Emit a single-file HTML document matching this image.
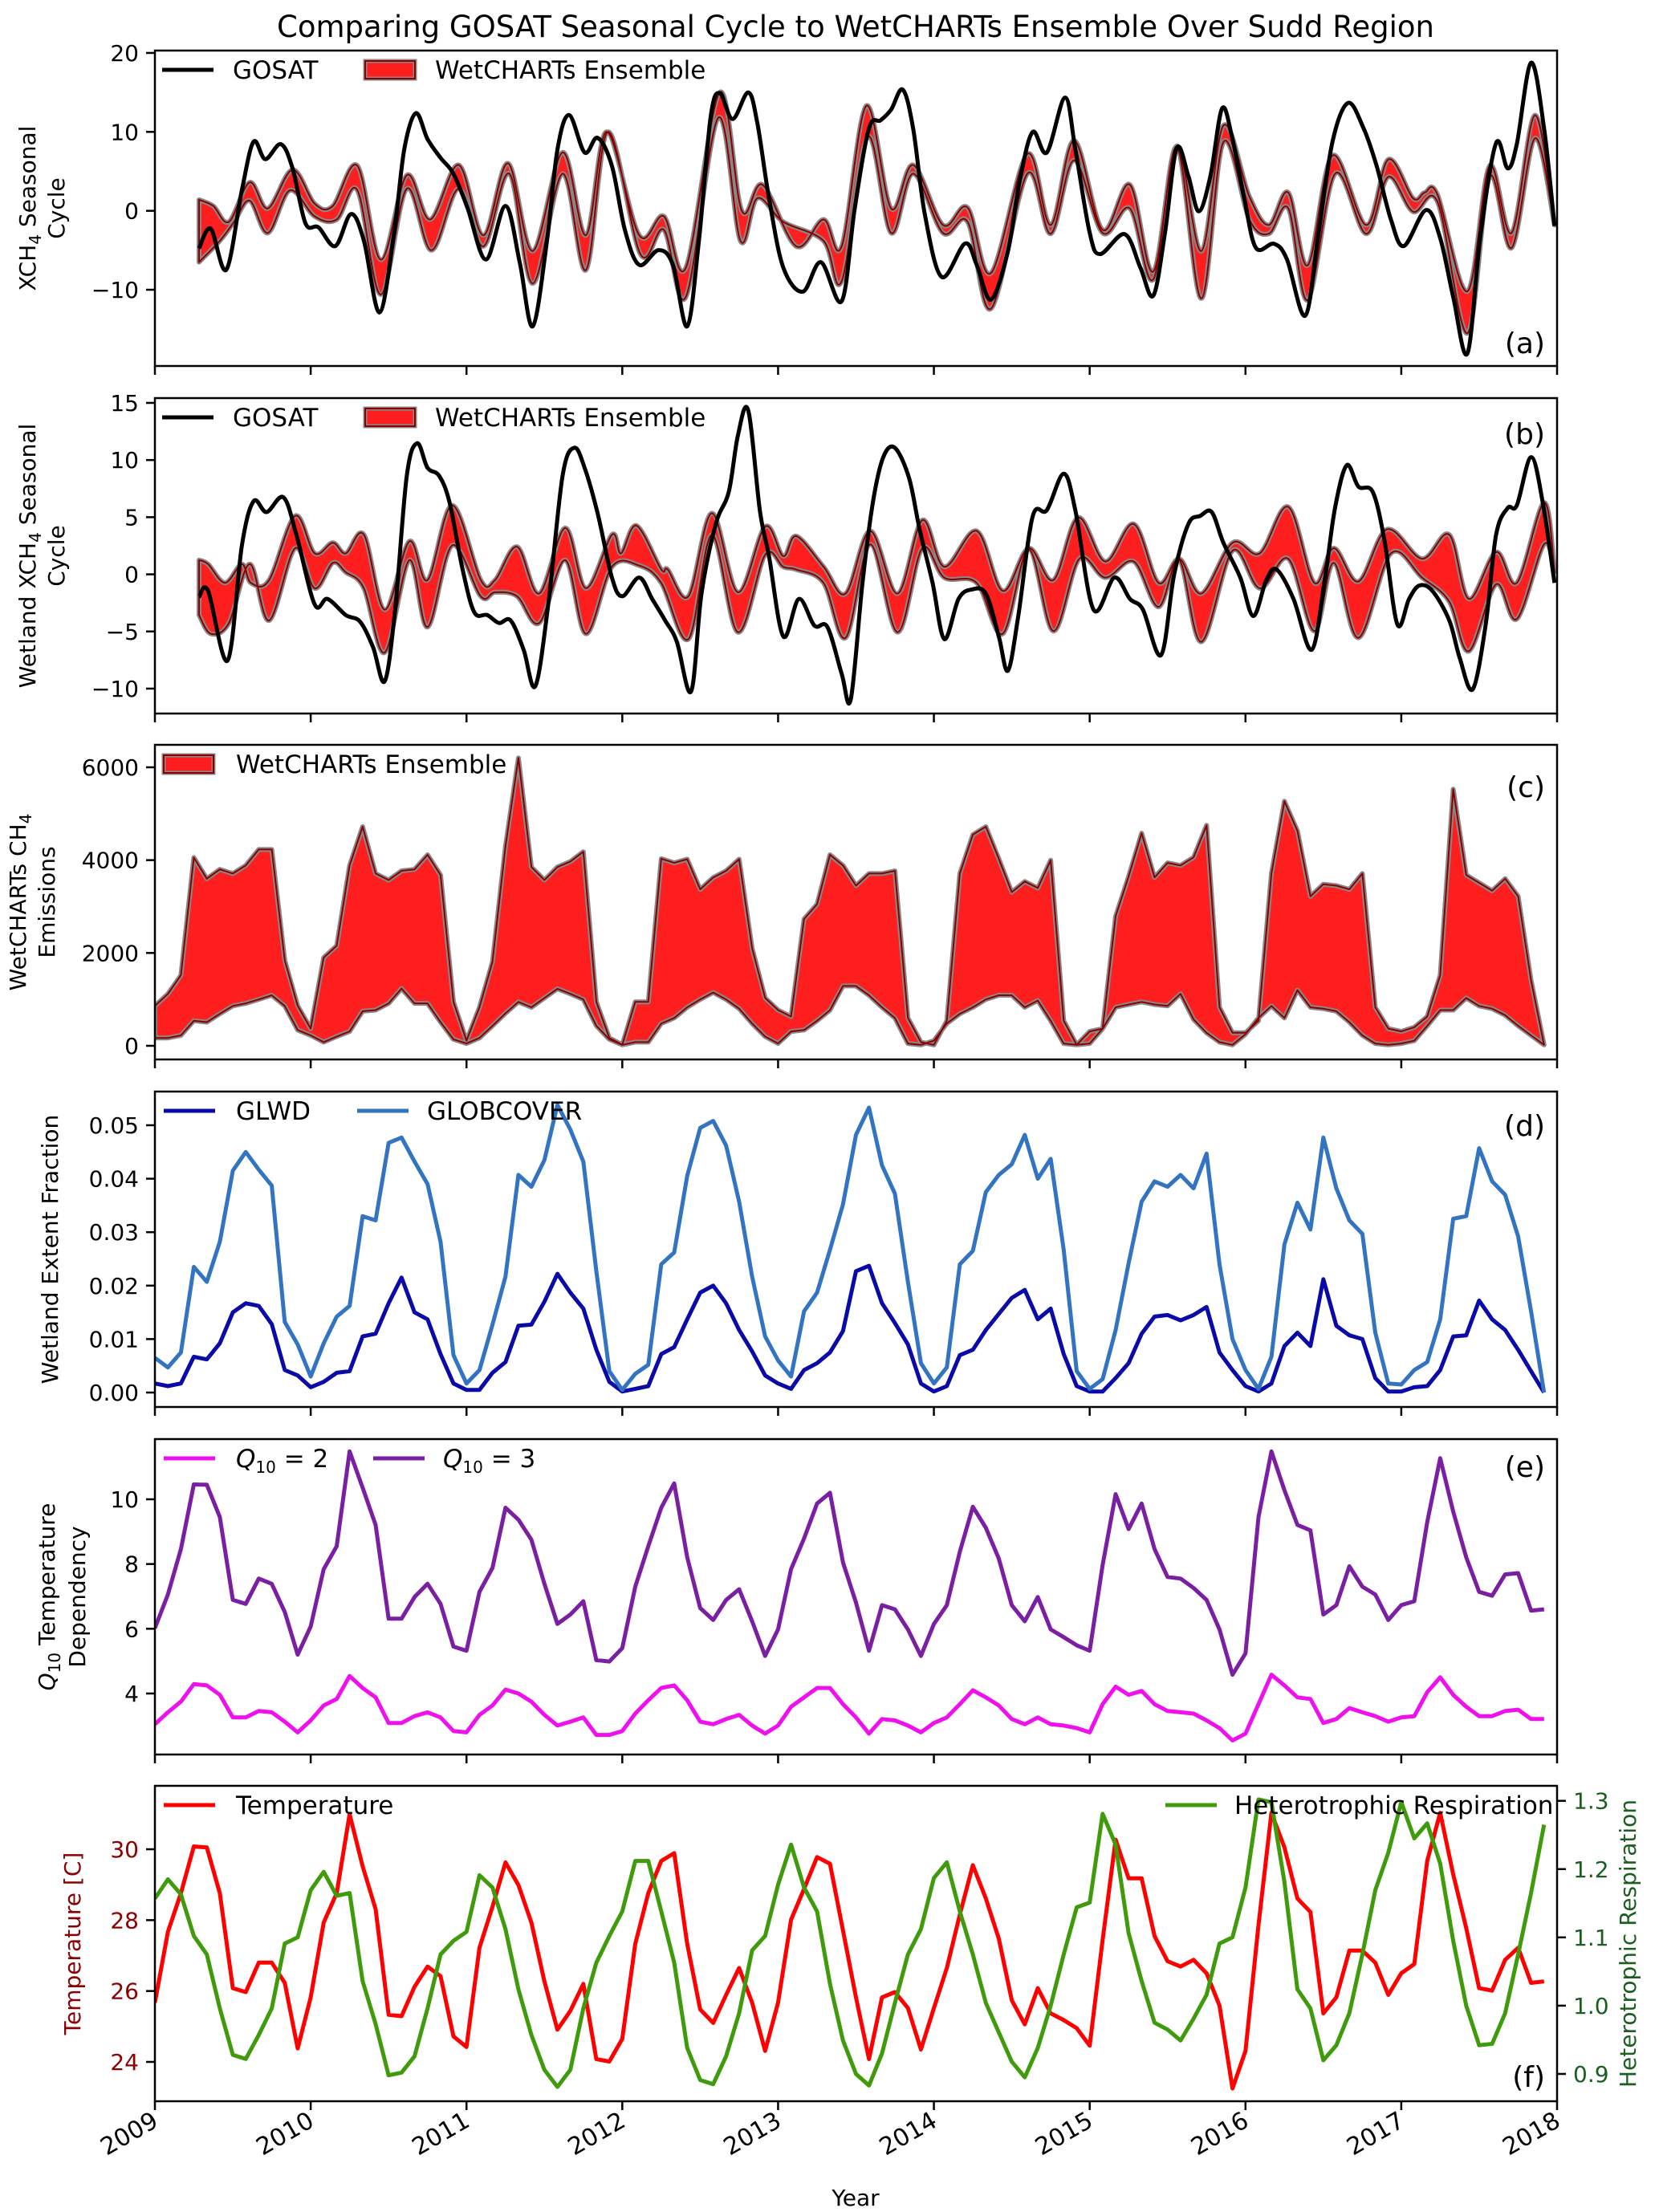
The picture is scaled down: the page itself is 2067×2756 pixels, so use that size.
<!DOCTYPE html>
<html><head><meta charset="utf-8"><style>
html,body{margin:0;padding:0;background:#fff;}
svg{display:block;font-family:"DejaVu Sans","Liberation Sans",sans-serif;}
</style></head><body>
<svg id="fig" width="2067" height="2756" viewBox="0 0 2067 2756" xmlns="http://www.w3.org/2000/svg">
<rect width="2067" height="2756" fill="#fff"/>
<text x="1066" y="46" font-size="37" text-anchor="middle">Comparing GOSAT Seasonal Cycle to WetCHARTs Ensemble Over Sudd Region</text>
</svg>
<script>
// ---------- DATA (month index from Jan 2009, values) ----------
const gosatA_t=[3.4,4.3,5.5,6.7,7.6,8.5,9.7,10.6,11.6,12.6,13.9,15.1,16.1,17.3,18.4,19.2,20.1,21.0,22.0,23.0,24.1,25.5,27.0,28.1,29.1,30.2,31.0,31.9,33.1,34.1,35.2,36.2,37.3,38.8,39.9,41.0,41.9,42.8,43.5,44.5,45.7,46.4,47.3,48.4,49.9,51.3,52.9,53.9,55.0,55.9,56.7,57.6,58.4,59.3,60.6,62.4,63.3,64.4,65.7,66.6,67.6,68.7,70.1,70.9,72.0,72.8,74.7,75.9,76.9,77.8,78.7,79.6,80.4,81.3,82.2,83.0,83.9,84.8,86.2,87.2,88.6,89.6,90.7,91.9,93.1,94.1,95.2,96.2,97.9,99.0,100.0,101.1,102.1,103.3,104.2,104.9,106.0,107.0,107.8];
const gosatA_v=[-4.75,-2.27,-7.46,2.64,8.75,6.54,8.44,5.39,-1.58,-2.10,-4.47,-0.41,-3.80,-12.88,-3.12,7.73,12.37,9.08,6.71,4.68,0.27,-6.17,0.61,-6.51,-14.64,-3.80,7.73,12.14,7.39,9.25,5.69,-2.44,-6.85,-4.98,-6.85,-14.64,-3.80,11.80,14.92,11.63,15.0,11.12,1.63,-7.18,-10.24,-6.51,-11.44,0.27,10.44,11.46,12.81,15.36,10.44,-0.41,-8.37,-4.14,-6.85,-11.25,-5.12,3.69,9.97,7.39,14.34,7.73,-2.78,-5.49,-2.95,-7.18,-10.75,-2.78,7.9,4.41,-0.07,4.41,12.98,9.08,1.63,-4.68,-4.17,-6.17,-13.29,-3.12,8.75,13.66,10.44,5.69,-1.08,-4.47,0.10,-3.46,-10.92,-18.04,-3.12,8.58,5.36,8.47,18.75,10.44,-1.93];
const ensUpA_t=[3.4,4.5,5.7,7.3,8.7,10.6,12.3,13.7,15.6,17.4,19.4,21.2,23.4,25.3,27.2,29.1,31.4,33.2,34.8,37.3,39.2,40.9,43.5,45.2,46.8,49.4,51.5,52.9,54.8,56.7,58.4,60.7,62.6,64.4,67.2,69.0,70.8,73.0,75.1,76.9,78.7,80.6,82.3,84.3,85.8,87.3,88.8,90.7,93.3,95.0,96.9,97.8,98.8,101.1,102.8,104.5,106.3,107.8];
const ensUpA_v=[1.4,0.6,-1.4,3.6,0.3,5.2,0.9,0.6,5.7,-6.2,4.5,-1.1,5.8,-3.1,6.0,-5.1,7.4,-3.1,10.0,-3.1,-0.7,-7.2,15.0,0.0,3.3,-4.5,-1.1,-4.5,13.3,0.3,5.8,-1.8,0.4,-7.9,7.2,-1.8,8.9,-2.4,3.3,-7.7,8.2,-5.1,10.8,1.8,-1.8,2.3,-6.9,7.0,-1.8,6.5,1.6,2.3,2.0,-10.2,5.7,-2.8,12.1,-1.8];
const ensLoA_t=[3.4,5.0,6.1,7.3,8.7,10.4,12.3,14.0,15.6,17.4,19.4,21.3,23.4,25.3,27.3,29.1,31.4,33.2,34.9,37.4,39.2,40.9,43.4,45.1,46.4,48.4,51.5,52.9,54.9,56.7,58.4,60.7,62.6,64.4,67.2,69.0,70.8,73.0,75.1,76.9,78.7,80.6,82.3,84.3,85.8,87.3,88.8,90.9,93.3,95.0,96.9,98.8,101.1,102.8,104.5,106.3,107.8];
const ensLoA_v=[-6.5,-3.8,-1.4,1.3,-2.8,2.6,-0.7,-1.1,2.6,-10.6,2.8,-5.0,2.8,-4.5,4.7,-9.2,4.7,-7.5,10.0,-5.5,-2.4,-10.9,11.8,-3.8,1.6,-1.4,-3.8,-8.9,9.4,-2.8,4.7,-2.8,-1.4,-12.4,4.7,-2.9,6.4,-2.8,0.3,-8.7,8.1,-11.1,8.7,-1.1,-2.9,0.3,-11.3,4.7,-2.9,4.3,-0.1,1.1,-15.5,4.3,-4.7,9.2,-1.8];

const gosatB_t=[3.4,4.1,5.6,6.7,7.6,8.6,9.9,10.9,12.3,13.3,14.7,15.8,16.8,17.7,18.5,19.4,20.2,21.0,21.9,22.7,23.7,24.6,25.6,26.5,27.4,28.4,29.3,30.3,31.4,32.3,33.1,34.1,35.2,36.0,37.3,38.3,39.3,40.2,41.3,42.1,43.2,44.2,44.9,45.7,46.6,47.3,48.4,49.6,50.8,51.8,52.9,53.6,54.5,55.3,56.1,57.0,58.1,58.9,59.9,60.8,61.9,62.9,64.0,65.0,65.7,66.5,67.6,68.7,70.0,70.9,72.3,73.9,75.1,76.1,77.5,78.5,79.6,80.5,81.4,82.3,83.6,84.6,85.6,86.4,87.7,89.1,90.1,90.9,91.8,92.7,93.8,94.7,95.7,96.6,97.4,98.4,99.7,100.5,101.5,102.5,103.3,104.2,104.9,106.0,106.9,107.8];
const gosatB_v=[-1.97,-1.45,-7.54,2.53,6.39,5.45,6.74,3.46,-2.62,-2.15,-3.56,-4.14,-6.37,-9.36,-3.09,8.61,11.47,9.32,8.61,6.27,0.42,-3.32,-3.56,-4.26,-4.03,-6.60,-9.78,-2.62,8.61,11.07,9.32,5.34,-0.28,-1.92,-0.28,-2.15,-4.03,-5.90,-10.24,-1.69,4.40,7.21,12.12,14.35,5.55,1.59,-5.43,-2.15,-4.49,-4.61,-8.71,-10.93,-0.75,6.27,10.25,11.07,8.38,3.93,-0.75,-5.66,-2.15,-1.33,-1.69,-5.43,-8.43,-3.65,5.03,5.62,8.8,5.57,-3.09,-0.28,-2.15,-3.09,-7.07,-0.05,4.40,5.10,5.45,2.76,-0.28,-3.65,-0.51,0.42,-2.15,-6.60,-0.51,5.83,9.55,7.68,7.21,3.0,-4.38,-2.15,-0.98,-1.45,-4.03,-7.31,-10.06,-4.43,3.46,5.80,6.04,10.25,6.27,-0.75];
const ensUpB_t=[3.4,4.1,5.4,6.7,7.4,8.8,10.8,12.3,13.7,14.7,16.1,17.7,19.6,21.0,22.9,25.1,26.2,27.9,29.6,31.6,33.2,35.2,35.9,37.1,39.0,39.5,41.1,42.9,44.9,47.0,48.4,49.4,51.5,53.2,55.1,57.2,59.1,60.8,63.3,65.3,67.3,69.2,71.1,73.2,75.4,77.3,78.9,80.6,83.0,85.1,87.3,89.3,90.8,92.7,94.9,97.6,99.7,101.2,103.3,104.9,107.0,107.8];
const ensUpB_v=[1.24,0.89,-0.75,0.89,-0.75,-0.51,5.11,1.83,2.76,1.83,3.46,-3.09,2.88,-0.51,6.04,-0.51,-0.51,2.41,-1.69,4.05,-1.22,3.46,1.83,4.26,0.42,0.42,-1.92,5.34,-1.57,4.17,1.59,3.34,0.66,-1.69,3.79,-1.69,4.73,0.66,3.79,-1.45,2.29,-0.51,4.96,1.12,4.40,-0.75,1.36,-1.69,2.76,1.83,5.90,-0.75,2.29,-0.63,3.93,1.36,3.46,-2.15,1.94,-0.75,6.27,0.2];
const ensLoB_t=[3.4,4.3,5.7,7.3,8.8,10.8,12.3,13.7,14.7,16.1,17.7,19.6,21.0,22.9,25.1,26.2,27.9,29.6,31.6,33.2,35.2,37.3,39.0,41.1,42.9,44.9,47.0,48.4,49.4,51.5,53.2,55.1,57.2,59.1,60.8,63.3,65.3,67.3,69.2,71.2,73.2,75.4,77.3,78.9,80.6,83.0,85.1,87.3,89.3,90.8,92.7,95.2,97.6,99.7,101.2,103.3,104.9,107.0,107.8];
const ensLoB_v=[-3.56,-5.2,-4.26,0.89,-4.03,2.29,-1.22,1.0,0.19,-1.22,-6.84,1.24,-4.61,2.53,-1.92,-1.57,-1.92,-4.26,1.24,-5.2,0.66,0.77,-0.75,-5.66,3.46,-5.06,1.71,0.66,0.42,-0.75,-5.55,2.62,-5.06,2.29,-0.28,-0.75,-5.2,2.18,-4.96,1.36,-0.28,1.12,-2.85,1.24,-5.9,2.06,-1.22,1.36,-4.96,1.0,-5.55,1.83,-0.28,-2.38,-6.72,-0.87,-3.91,2.64,0.2];

const emisUp=[858,1118,1520,4055,3600,3800,3710,3885,4230,4230,1840,860,370,1900,2155,3885,4720,3710,3570,3770,3800,4115,3680,945,110,830,1810,4300,6200,3850,3570,3850,3970,4180,945,170,20,945,945,4030,3940,4020,3370,3625,3770,4020,2100,1030,770,630,2730,3050,4115,3885,3450,3710,3710,3770,600,80,20,540,3710,4550,4720,4030,3310,3540,3400,4000,540,20,50,370,2790,3650,4580,3625,3940,3885,4060,4750,830,280,280,540,3710,5270,4630,3220,3480,3450,3370,3710,830,370,310,400,630,1520,5530,3680,3510,3340,3600,3220,1410,20];
const emisLo=[170,170,225,540,510,690,860,915,1000,1090,860,340,225,80,200,310,745,770,915,1235,915,915,510,140,50,170,430,700,945,830,1030,1230,1120,1000,430,140,20,80,80,480,600,830,1000,1150,1000,800,480,200,50,310,340,540,770,1290,1290,1090,830,600,50,20,110,480,690,830,1000,1090,1090,830,975,540,50,20,310,370,830,890,945,890,860,1120,570,280,80,20,250,600,860,600,1200,830,800,745,510,225,50,20,50,110,430,770,770,1030,860,800,660,430,225,20];

const glwd=[1.7,1.2,1.7,6.7,6.2,9.2,15.0,16.7,16.2,12.8,4.2,3.2,1.0,2.0,3.7,4.0,10.5,11.0,16.7,21.5,15.0,13.7,7.2,1.7,0.5,0.5,3.7,5.7,12.5,12.7,17.0,22.2,18.7,15.7,8.0,2.0,0.2,0.7,1.2,7.2,8.5,13.7,18.7,20.0,16.7,11.7,7.7,3.2,1.7,0.7,4.2,5.5,7.5,11.5,22.7,23.7,16.7,13.0,9.0,1.7,0.2,1.2,7.0,8.0,11.7,14.7,17.7,19.2,13.7,15.7,7.2,1.2,0.2,0.2,2.7,5.5,11.0,14.2,14.5,13.5,14.5,16.0,7.5,4.2,1.2,0.2,1.7,8.7,11.2,8.7,21.2,12.5,10.7,10.0,2.7,0.2,0.2,1.0,1.2,4.2,10.5,10.7,17.2,13.7,11.7,8.0,4.0,0.0].map(v=>v/1000);
const globcover=[6.5,4.7,7.5,23.5,20.7,28.2,41.5,45.0,41.7,38.7,13.2,9.0,3.0,9.2,14.2,16.2,33.0,32.2,46.7,47.7,43.2,39.0,28.2,7.0,1.7,4.2,12.7,21.7,40.7,38.5,43.5,53.8,49.2,43.2,22.7,4.0,0.5,3.5,5.2,24.0,26.2,40.5,49.5,50.8,46.2,35.7,21.7,10.5,6.0,3.0,15.2,18.7,26.7,35.2,48.2,53.3,42.5,37.2,20.7,5.5,1.7,4.7,24.0,26.5,37.5,40.7,42.7,48.2,40.0,43.7,26.7,4.0,0.7,2.5,11.7,24.2,35.7,39.5,38.5,40.7,38.2,44.7,24.0,10.0,4.2,0.7,6.7,27.7,35.5,30.5,47.7,38.2,32.2,29.7,11.2,1.7,1.5,4.2,5.7,13.7,32.5,33.0,45.7,39.5,37.0,29.2,15.2,0.0].map(v=>v/1000);

const q10two=[3.05,3.42,3.75,4.29,4.25,3.96,3.26,3.26,3.46,3.42,3.13,2.8,3.17,3.63,3.83,4.54,4.17,3.88,3.09,3.09,3.3,3.42,3.26,2.84,2.8,3.34,3.63,4.12,4.0,3.75,3.34,3.01,3.13,3.26,2.72,2.72,2.84,3.38,3.79,4.17,4.25,3.79,3.13,3.05,3.21,3.34,3.01,2.76,3.01,3.59,3.88,4.17,4.17,3.67,3.26,2.76,3.21,3.17,3.01,2.8,3.09,3.26,3.67,4.1,3.88,3.63,3.21,3.05,3.26,3.05,3.01,2.93,2.8,3.67,4.21,3.96,4.08,3.67,3.46,3.42,3.38,3.17,2.93,2.55,2.76,3.67,4.58,4.25,3.88,3.83,3.09,3.21,3.55,3.42,3.3,3.13,3.26,3.3,4.04,4.5,3.96,3.59,3.3,3.3,3.46,3.5,3.21,3.21];
const q10three=[6.02,7.06,8.46,10.46,10.45,9.45,6.89,6.77,7.55,7.39,6.52,5.2,6.07,7.84,8.55,11.48,10.36,9.21,6.31,6.31,6.98,7.39,6.77,5.45,5.32,7.14,7.88,9.74,9.37,8.75,7.39,6.15,6.44,6.85,5.03,4.99,5.4,7.3,8.55,9.74,10.49,8.21,6.64,6.27,6.89,7.22,6.23,5.16,5.98,7.84,8.79,9.87,10.2,8.05,6.81,5.32,6.73,6.6,5.98,5.16,6.15,6.73,8.38,9.77,9.12,8.17,6.73,6.23,6.98,5.98,5.74,5.49,5.32,7.97,10.16,9.08,9.87,8.46,7.6,7.55,7.26,6.89,5.98,4.58,5.24,9.45,11.48,10.28,9.21,9.04,6.44,6.73,7.93,7.3,7.06,6.27,6.73,6.85,9.29,11.27,9.62,8.21,7.14,7.02,7.68,7.72,6.56,6.6];

const temperature=[25.67,27.67,28.76,30.08,30.05,28.76,26.08,25.97,26.8,26.8,26.23,24.38,25.82,27.93,28.76,30.99,29.52,28.31,25.33,25.29,26.12,26.69,26.42,24.72,24.42,27.22,28.38,29.63,28.99,27.93,26.27,24.91,25.44,26.2,24.08,24.01,24.65,27.33,28.76,29.67,29.89,27.33,25.48,25.1,25.89,26.65,25.67,24.31,25.67,28.01,28.88,29.78,29.59,27.71,25.82,24.08,25.82,25.97,25.52,24.35,25.52,26.65,28.16,29.55,28.61,27.48,25.74,25.06,26.08,25.37,25.18,24.95,24.46,27.44,30.27,29.18,29.18,27.55,26.84,26.69,26.88,26.5,25.59,23.25,24.31,27.86,31.03,30.05,28.61,28.23,25.37,25.82,27.14,27.14,26.8,25.89,26.5,26.76,29.67,31.03,29.29,27.78,26.08,26.01,26.88,27.22,26.23,26.27];
const hetResp=[1.157,1.185,1.163,1.102,1.075,0.996,0.928,0.922,0.957,0.996,1.091,1.1,1.169,1.196,1.161,1.165,1.036,0.973,0.898,0.902,0.926,0.996,1.075,1.095,1.108,1.191,1.173,1.112,1.024,0.957,0.906,0.881,0.906,0.996,1.063,1.102,1.138,1.212,1.212,1.138,1.063,0.938,0.891,0.885,0.926,0.989,1.081,1.102,1.177,1.236,1.173,1.138,1.032,0.949,0.9,0.883,0.93,1.004,1.075,1.112,1.187,1.21,1.138,1.075,1.004,0.961,0.918,0.895,0.938,1.0,1.075,1.144,1.151,1.281,1.236,1.106,1.036,0.975,0.965,0.949,0.981,1.016,1.091,1.1,1.173,1.302,1.298,1.181,1.024,0.996,0.92,0.942,0.989,1.075,1.169,1.224,1.298,1.245,1.267,1.208,1.095,1.0,0.942,0.944,0.989,1.075,1.165,1.265];

const yearLabels=["2009","2010","2011","2012","2013","2014","2015","2016","2017","2018"];
const ticksA=[20,10,0,-10], ticksB=[15,10,5,0,-5,-10], ticksC=[0,2000,4000,6000];
const ticksD=[0,0.01,0.02,0.03,0.04,0.05], ticksE=[4,6,8,10], ticksF=[24,26,28,30], ticksFR=[0.9,1.0,1.1,1.2,1.3];

// ---------- DRAWING ----------
const svg=document.getElementById('fig');
const NS='http://www.w3.org/2000/svg';
const L=193,R=1940;
const TK=28, LG=31, YL=28;
const X=t=>L+t*(R-L)/108;
function mk(tag,attrs,parent){const e=document.createElementNS(NS,tag);for(const k in attrs)e.setAttribute(k,attrs[k]);(parent||svg).appendChild(e);return e;}
function scale(p,vmax,vmin){return v=>p.top+(vmax-v)/(vmax-vmin)*(p.bot-p.top);}
function smooth(pts,start){let d=(start||'M')+pts[0][0].toFixed(1)+','+pts[0][1].toFixed(1);
 for(let i=0;i<pts.length-1;i++){const p0=pts[Math.max(0,i-1)],p1=pts[i],p2=pts[i+1],p3=pts[Math.min(pts.length-1,i+2)];
  const c1=[p1[0]+(p2[0]-p0[0])/6,p1[1]+(p2[1]-p0[1])/6],c2=[p2[0]-(p3[0]-p1[0])/6,p2[1]-(p3[1]-p1[1])/6];
  d+='C'+c1[0].toFixed(1)+','+c1[1].toFixed(1)+' '+c2[0].toFixed(1)+','+c2[1].toFixed(1)+' '+p2[0].toFixed(1)+','+p2[1].toFixed(1);}
 return d;}
function poly(pts,start){return (start||'M')+pts.map(p=>p[0].toFixed(1)+','+p[1].toFixed(1)).join('L');}
const panels={a:{top:63,bot:456},b:{top:496,bot:889},c:{top:928,bot:1320},d:{top:1360,bot:1753},e:{top:1793,bot:2186},f:{top:2225,bot:2618}};
let clipN=0;
function panelGroup(p,name){const id='clip'+(clipN++);const cp=mk('clipPath',{id:id});mk('rect',{x:L,y:p.top,width:R-L,height:p.bot-p.top},cp);
 const g=mk('g',{'clip-path':'url(#'+id+')'});return g;}
function frame(p,name){const r=mk('rect',{x:L,y:p.top,width:R-L,height:p.bot-p.top,fill:'none',stroke:'#000','stroke-width':2.5});
 
 for(let k=0;k<=9;k++){const x=X(k*12);const tk=mk('line',{x1:x,x2:x,y1:p.bot,y2:p.bot+11,stroke:'#000','stroke-width':2.5});
  }}
function yTicks(p,ys,ticks,fmt,color,right){const g=mk('g',{});
 ticks.forEach(t=>{const y=ys(t);
  if(right){mk('line',{x1:R,x2:R+11,y1:y,y2:y,stroke:'#000','stroke-width':2.5},g);const tx=mk('text',{x:R+20,y:y+10,'font-size':TK,fill:color||'#000'},g);tx.textContent=fmt(t);}
  else{mk('line',{x1:L-11,x2:L,y1:y,y2:y,stroke:'#000','stroke-width':2.5},g);const tx=mk('text',{x:L-20,y:y+10,'font-size':TK,'text-anchor':'end',fill:color||'#000'},g);tx.textContent=fmt(t);}});}
function ylabel(lines,xs,p,name,color){const cy=(p.top+p.bot)/2;lines.forEach((ln,i)=>{const t=mk('text',{x:xs[i],y:cy,'font-size':YL,'text-anchor':'middle',fill:color||'#000',transform:'rotate(-90 '+xs[i]+' '+cy+')'});t.innerHTML=ln;
 });}
function letter(s,y){const t=mk('text',{x:1925,y:y,'font-size':36,'text-anchor':'end'});t.textContent=s;}
function legLine(x1,y,color,label,tx,name){const g=mk('g',{});
 mk('line',{x1:x1,x2:x1+64,y1:y,y2:y,stroke:color,'stroke-width':5},g);const t=mk('text',{x:tx,y:y+11,'font-size':LG},g);t.innerHTML=label;}
function legPatch(x1,y,label,tx,name){const g=mk('g',{});
 mk('rect',{x:x1,y:y-11,width:62,height:22,fill:'#ff1e1e',stroke:'#888','stroke-width':5},g);mk('rect',{x:x1,y:y-11,width:62,height:22,fill:'none',stroke:'#8b0000','stroke-width':2},g);
 const t=mk('text',{x:tx,y:y+11,'font-size':LG},g);t.textContent=label;}
const fmtInt=v=>(v<0?'\u2212':'')+Math.abs(v);

function band(g,ys,upT,upV,loT,loV,name,smoothed){const up=upT.map((t,i)=>[X(t),ys(upV[i])]);const lo=loT.map((t,i)=>[X(t),ys(loV[i])]).reverse();
 const d=smoothed?smooth(up)+smooth(lo,'L')+'Z':poly(up)+poly(lo,'L')+'Z';
 const pth=mk('path',{d:d,fill:'#ff1e1e',stroke:'#888','stroke-width':6,'stroke-linejoin':'round'},g);
 
 mk('path',{d:d,fill:'none',stroke:'#8b0000','stroke-width':2,'stroke-linejoin':'round'},g);}
function line(g,pts,color,w,name,smoothed){const p=mk('path',{d:smoothed?smooth(pts):poly(pts),fill:'none',stroke:color,'stroke-width':w,'stroke-linejoin':'round','stroke-linecap':'butt'},g);
 }
const monthly=(arr,ys)=>arr.map((v,i)=>[X(i),ys(v)]);
const sub=s=>'<tspan font-size="20" dy="7">'+s+'</tspan>';

// Panel a
{const p=panels.a,ys=scale(p,20.3,-19.66),g=panelGroup(p,'panel-a');
 band(g,ys,ensUpA_t,ensUpA_v,ensLoA_t,ensLoA_v,'wetcharts-band-a',true);
 line(g,gosatA_t.map((t,i)=>[X(t),ys(gosatA_v[i])]),'#000',5,'gosat-line-a',true);
 frame(p,'panel-a');yTicks(p,ys,ticksA,fmtInt);
 ylabel(['XCH'+sub('4')+'<tspan dy="-7"> Seasonal</tspan>','Cycle'],[44,80],p,'y-axis-title-a');
 legLine(202,87,'#000','GOSAT',290,'legend-gosat-a');legPatch(455,87,'WetCHARTs Ensemble',542,'legend-wetcharts-a');letter('(a)',440);}
// Panel b
{const p=panels.b,ys=scale(p,15.42,-12.18),g=panelGroup(p,'panel-b');
 band(g,ys,ensUpB_t,ensUpB_v,ensLoB_t,ensLoB_v,'wetcharts-band-b',true);
 line(g,gosatB_t.map((t,i)=>[X(t),ys(gosatB_v[i])]),'#000',5,'gosat-line-b',true);
 frame(p,'panel-b');yTicks(p,ys,ticksB,fmtInt);
 ylabel(['Wetland XCH'+sub('4')+'<tspan dy="-7"> Seasonal</tspan>','Cycle'],[44,80],p,'y-axis-title-b');
 legLine(202,520,'#000','GOSAT',290,'legend-gosat-b');legPatch(455,520,'WetCHARTs Ensemble',542,'legend-wetcharts-b');letter('(b)',553);}
// Panel c
{const p=panels.c,ys=scale(p,6484,-294),g=panelGroup(p,'panel-c');
 const tt=emisUp.map((v,i)=>i);
 band(g,ys,tt,emisUp,tt,emisLo,'wetcharts-emissions-band',false);
 frame(p,'panel-c');yTicks(p,ys,ticksC,v=>String(v));
 ylabel(['WetCHARTs CH'+sub('4'),'Emissions'],[32,68],p,'y-axis-title-c');
 legPatch(204,952,'WetCHARTs Ensemble',294,'legend-wetcharts-c');letter('(c)',993);}
// Panel d
{const p=panels.d,ys=scale(p,0.0563,-0.0027),g=panelGroup(p,'panel-d');
 line(g,monthly(glwd,ys),'#0a0aa8',5,'glwd-line');line(g,monthly(globcover,ys),'#3274c2',5,'globcover-line');
 frame(p,'panel-d');yTicks(p,ys,ticksD,v=>v.toFixed(2));
 ylabel(['Wetland Extent Fraction'],[72],p,'y-axis-title-d');
 legLine(204,1384,'#0a0aa8','GLWD',294,'legend-glwd');legLine(445,1384,'#3274c2','GLOBCOVER',532,'legend-globcover');letter('(d)',1415);}
// Panel e
{const p=panels.e,ys=scale(p,11.86,2.115),g=panelGroup(p,'panel-e');
 line(g,monthly(q10two,ys),'#ee11ee',5,'q10-2-line');line(g,monthly(q10three,ys),'#7b1fa2',5,'q10-3-line');
 frame(p,'panel-e');yTicks(p,ys,ticksE,v=>String(v));
 ylabel(['<tspan font-style="italic">Q</tspan>'+sub('10')+'<tspan dy="-7"> Temperature</tspan>','Dependency'],[68,106],p,'y-axis-title-e');
 legLine(204,1817,'#ee11ee','<tspan font-style="italic">Q</tspan>'+sub('10')+'<tspan dy="-7"> = 2</tspan>',294,'legend-q10-2');
 legLine(465,1817,'#7b1fa2','<tspan font-style="italic">Q</tspan>'+sub('10')+'<tspan dy="-7"> = 3</tspan>',552,'legend-q10-3');letter('(e)',1840);}
// Panel f
{const p=panels.f,ys=scale(p,31.79,22.89),yr=scale(p,1.322,0.860),g=panelGroup(p,'panel-f');
 line(g,monthly(temperature,ys),'#ff0000',5,'temperature-line');line(g,monthly(hetResp,yr),'#3f9b0b',5,'het-resp-line');
 frame(p,'panel-f');yTicks(p,ys,ticksF,v=>String(v),'#8b0000');yTicks(p,yr,ticksFR,v=>v.toFixed(1),'#1b5e20',true);
 ylabel(['Temperature [C]'],[100],p,'y-axis-title-left-f','#8b0000');
 ylabel(['Heterotrophic Respiration'],[2038],p,'y-axis-title-right-f','#1b5e20');
 legLine(204,2249,'#ff0000','Temperature',294,'legend-temperature');legLine(1452,2249,'#3f9b0b','Heterotrophic Respiration',1538,'legend-het-resp');letter('(f)',2600);
 yearLabels.forEach((s,k)=>{const x=X(k*12)+6,y=2648;const t=mk('text',{x:x,y:y,'font-size':30,'text-anchor':'end',transform:'rotate(-30 '+x+' '+y+')'});t.textContent=s;
  });
 const xl=mk('text',{x:1066,y:2748,'font-size':28,'text-anchor':'middle'});xl.textContent='Year';}
</script>
</body></html>
